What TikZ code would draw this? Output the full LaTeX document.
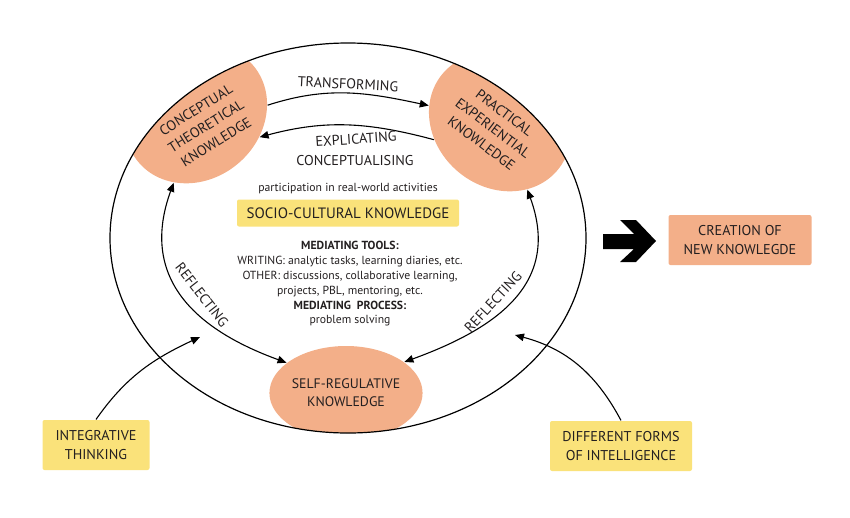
\documentclass[tikz,border=0pt]{standalone}
\usepackage{fontspec}
\setmainfont{PT Sans}
\usetikzlibrary{arrows.meta,shapes.geometric}
\definecolor{blobpeach}{RGB}{243,175,137}
\definecolor{boxyellow}{RGB}{250,226,122}
\definecolor{inkgrey}{RGB}{35,31,32}

\begin{document}
\begin{tikzpicture}[x=1pt, y=1pt,
    blob/.style={ellipse, fill=blobpeach, inner sep=0pt, font=\fontsize{13.8}{18}\selectfont, text=inkgrey, align=center},
    capslabel/.style={font=\fontsize{14.2}{19}\selectfont, text=inkgrey, align=center, inner sep=1pt},
    smalltext/.style={font=\fontsize{11.7}{14.8}\selectfont, text=inkgrey, align=center, inner sep=1pt},
    notebox/.style={fill=boxyellow, rounded corners=2pt, minimum width=107pt, minimum height=50pt, align=center, font=\fontsize{14.2}{19}\selectfont, text=inkgrey},
    >={Triangle[length=9pt,width=7.5pt]},
    line width=1.1pt
]
\useasboundingbox (0,0) rectangle (850,-517);

% knowledge areas, cut off by the outer ring
\begin{scope}
  \clip (348,-238) ellipse [x radius=238, y radius=195];
  \node[blob, rotate=40, minimum width=150pt, minimum height=130pt] (conc) at (196,-114) {};
  \node[blob, rotate=-40, minimum width=150pt, minimum height=130pt] (prac) at (500,-122) {};
  \node[blob, minimum width=136pt, minimum height=94pt] (self) at (346,-393) {SELF-REGULATIVE\\KNOWLEDGE};
\end{scope}
\draw[line width=1.2pt] (348,-238) ellipse [x radius=238, y radius=195];

\node[capslabel, rotate=32] (conctxt) at (206,-126) {CONCEPTUAL\\THEORETICAL\\KNOWLEDGE};
\node[capslabel, rotate=-37] (practxt) at (493,-128) {PRACTICAL\\EXPERIENTIAL\\KNOWLEDGE};

% arrows between the areas
\draw[->] (conc.327) to[out=18, in=168] (prac.207);
\draw[->] (prac.235) to[out=165, in=15] (conc.300);
\draw[<->] (conc.212) to[out=250, in=160, looseness=1.2] (self.153);
\draw[<->] (prac.332) to[out=290, in=20, looseness=1.2] (self.28);

\node[capslabel, rotate=-3] (transf) at (348,-84) {TRANSFORMING};
\node[capslabel, rotate=4] (explic) at (356,-139) {EXPLICATING};
\node[capslabel] (concept) at (355,-161) {CONCEPTUALISING};
\node[capslabel, rotate=-52] (reflL) at (202,-295) {REFLECTING};
\node[capslabel, rotate=47] (reflR) at (493,-302) {REFLECTING};

% middle of the ring
\node[smalltext] (partic) at (348,-189) {participation in real-world activities};
\node[fill=boxyellow, rounded corners=2pt, minimum width=222pt, minimum height=27pt, font=\fontsize{15}{17}\selectfont, text=inkgrey] (socio) at (348,-213) {SOCIO-CULTURAL KNOWLEDGE};
\node[smalltext] (mediate) at (350,-284) {\textbf{MEDIATING TOOLS:}\\WRITING: analytic tasks, learning diaries, etc.\\OTHER: discussions, collaborative learning,\\projects, PBL, mentoring, etc.\\\textbf{MEDIATING\ \ PROCESS:}\\problem solving};

% outside influences
\node[notebox] (integ) at (96,-445) {INTEGRATIVE\\THINKING};
\node[notebox, minimum width=142pt] (forms) at (621,-446) {DIFFERENT FORMS\\OF INTELLIGENCE};
\coordinate (intarr) at (200,-337);
\coordinate (formarr) at (515,-335);
\draw[->] (integ.north) to[out=55, in=205] (intarr);
\draw[->] (forms.north) to[out=118, in=345] (formarr);

% result
\fill[black] (603,-234) -- (634,-234) -- (620,-220) -- (636,-220) -- (656,-241) -- (636,-262) -- (620,-262) -- (634,-249) -- (603,-249) -- cycle;
\node[notebox, fill=blobpeach, minimum width=143pt] (create) at (740,-240) {CREATION OF\\NEW KNOWLEGDE};
\end{tikzpicture}
\end{document}
